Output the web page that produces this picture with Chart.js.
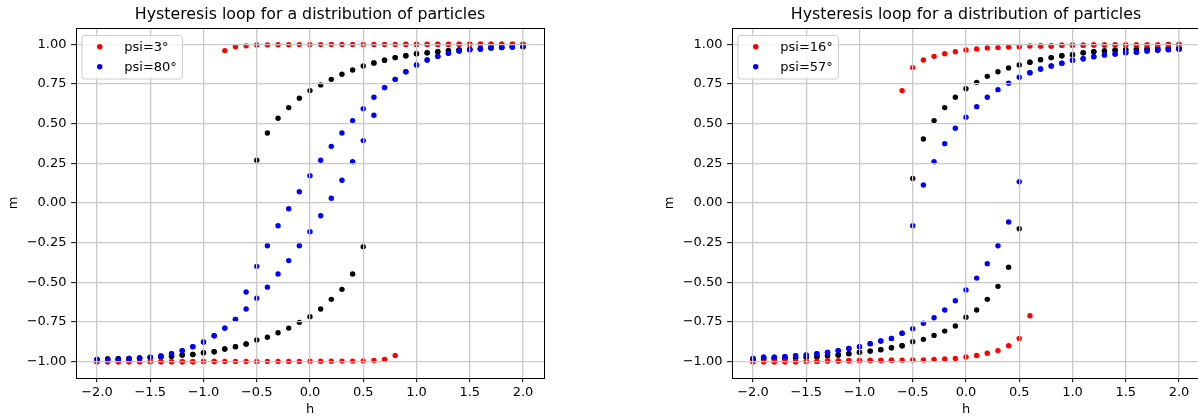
<!DOCTYPE html>
<html><head><meta charset="utf-8">
<script src="https://cdn.jsdelivr.net/npm/chart.js@4/dist/chart.umd.min.js"></script>
<style>
html,body{margin:0;padding:0;overflow:hidden;background:#fff;width:1198px;height:419px;}
.wrap{position:absolute;top:0;width:600px;height:419px;}
canvas{display:block;}
</style></head><body>
<div class="wrap" style="left:0"><canvas id="c1" width="600" height="419" style="width:600px;height:419px"></canvas></div>
<div class="wrap" style="left:656px"><canvas id="c2" width="600" height="419" style="width:600px;height:419px"></canvas></div>
<script>
// ---------- data ----------
const chartTitle = 'Hysteresis loop for a distribution of particles';
const xAxisTitle = 'h';
const yAxisTitle = 'm';

const hDown = [2.0,1.9,1.8,1.7,1.6,1.5,1.4,1.3,1.2,1.1,1.0,0.9,0.8,0.7,0.6,0.5,0.4,0.3,0.2,0.1,0.0,
  -0.1,-0.2,-0.3,-0.4,-0.5,-0.6,-0.7,-0.8,-0.9,-1.0,-1.1,-1.2,-1.3,-1.4,-1.5,-1.6,-1.7,-1.8,-1.9,-2.0];
const hUp = [-2.0,-1.9,-1.8,-1.7,-1.6,-1.5,-1.4,-1.3,-1.2,-1.1,-1.0,-0.9,-0.8,-0.7,-0.6,-0.5,-0.4,-0.3,-0.2,-0.1,0.0,
  0.1,0.2,0.3,0.4,0.5,0.6,0.7,0.8,0.9,1.0,1.1,1.2,1.3,1.4,1.5,1.6,1.7,1.8,1.9,2.0];

// left panel
const labelLeftRed = 'psi=3°';
const labelLeftBlue = 'psi=80°';
const leftRedDown = [1.000,1.000,1.000,1.000,1.000,1.000,1.000,0.999,0.999,0.999,0.999,0.999,0.999,0.999,0.999,0.999,
  0.999,0.999,0.999,0.998,0.998,0.998,0.997,0.997,0.996,0.995,0.990,0.984,0.960,
  -0.999,-0.999,-1.000,-1.000,-1.000,-1.000,-1.000,-1.000,-1.000,-1.000,-1.000,-1.000];
const leftRedUp = [-1.000,-1.000,-1.000,-1.000,-1.000,-1.000,-1.000,-1.000,-1.000,-1.000,-0.999,-0.999,-0.999,-0.999,-0.999,-0.998,-0.998,
  -0.998,-0.998,-0.998,-0.997,-0.997,-0.997,-0.996,-0.996,-0.995,-0.992,-0.985,-0.960,
  1.000,1.000,1.000,1.000,1.000,1.000,1.000,1.000,1.000,1.000,1.000,1.000];
const leftBlueDown = [0.987,0.985,0.981,0.979,0.972,0.966,0.958,0.943,0.924,0.901,0.870,0.827,0.779,0.727,0.666,0.594,0.519,0.441,0.357,0.269,0.172,
  0.071,-0.036,-0.143,-0.269,-0.399,-0.561,-0.733,-0.788,-0.836,-0.876,-0.905,-0.930,-0.949,-0.964,-0.972,-0.977,-0.983,-0.985,-0.987,-0.989];
const leftBlueUp = [-0.989,-0.987,-0.985,-0.983,-0.977,-0.972,-0.964,-0.949,-0.930,-0.905,-0.876,-0.836,-0.788,-0.733,-0.668,-0.600,-0.530,-0.447,-0.363,-0.269,-0.181,
  -0.080,0.030,0.143,0.260,0.393,0.553,0.727,0.779,0.827,0.870,0.901,0.924,0.943,0.958,0.966,0.972,0.979,0.981,0.985,0.987];
const leftBlackDown = [0.985,0.983,0.979,0.977,0.970,0.968,0.964,0.960,0.953,0.947,0.941,0.928,0.916,0.899,0.882,0.863,0.838,0.811,0.779,0.744,0.708,
  0.660,0.601,0.534,0.441,0.269,-0.888,-0.905,-0.920,-0.937,-0.943,-0.954,-0.958,-0.966,-0.970,-0.973,-0.976,-0.979,-0.981,-0.983,-0.986];
const leftBlackUp = [-0.986,-0.983,-0.981,-0.979,-0.976,-0.973,-0.970,-0.966,-0.958,-0.954,-0.943,-0.937,-0.920,-0.905,-0.888,-0.863,-0.846,-0.817,-0.788,-0.752,-0.716,
  -0.668,-0.607,-0.544,-0.447,-0.275,0.882,0.899,0.916,0.928,0.941,0.947,0.953,0.960,0.964,0.968,0.970,0.977,0.979,0.983,0.985];

// right panel
const labelRightRed = 'psi=16°';
const labelRightBlue = 'psi=57°';
const rightRedDown = [0.999,0.999,0.996,0.996,0.996,0.996,0.995,0.995,0.995,0.994,0.994,0.994,0.989,0.989,0.989,0.985,0.983,0.979,0.977,0.970,0.964,
  0.953,0.941,0.924,0.901,0.853,0.708,
  -0.991,-0.992,-0.992,-0.992,-0.994,-0.995,-0.995,-0.998,-0.999,-1.000,-1.000,-1.000,-1.000,-1.000];
const rightRedUp = [-1.000,-1.000,-1.000,-1.000,-1.000,-0.999,-0.998,-0.995,-0.995,-0.994,-0.992,-0.992,-0.992,-0.991,-0.990,-0.989,-0.989,-0.985,-0.983,-0.979,-0.970,
  -0.960,-0.947,-0.930,-0.899,-0.853,-0.710,
  0.989,0.989,0.994,0.994,0.994,0.995,0.995,0.995,0.996,0.996,0.996,0.996,0.999,0.999];
const rightBlueDown = [0.968,0.966,0.962,0.958,0.950,0.947,0.939,0.933,0.922,0.909,0.899,0.880,0.863,0.844,0.821,0.792,0.754,0.714,0.666,0.607,0.540,
  0.471,0.374,0.260,0.113,-0.143,
  -0.821,-0.853,-0.869,-0.886,-0.905,-0.916,-0.930,-0.941,-0.949,-0.958,-0.962,-0.968,-0.972,-0.972,-0.979];
const rightBlueUp = [-0.979,-0.972,-0.972,-0.968,-0.962,-0.958,-0.949,-0.941,-0.930,-0.916,-0.905,-0.886,-0.869,-0.853,-0.821,-0.792,-0.758,-0.723,-0.674,-0.616,-0.548,
  -0.473,-0.382,-0.269,-0.120,0.134,
  0.821,0.844,0.863,0.880,0.899,0.909,0.922,0.933,0.939,0.947,0.950,0.958,0.962,0.966,0.968];
const rightBlackDown = [0.975,0.975,0.972,0.970,0.968,0.966,0.962,0.958,0.953,0.947,0.934,0.928,0.916,0.903,0.887,0.870,0.851,0.827,0.798,0.760,0.720,
  0.666,0.601,0.519,0.403,0.155,
  -0.899,-0.912,-0.924,-0.933,-0.941,-0.949,-0.958,-0.962,-0.968,-0.972,-0.975,-0.978,-0.980,-0.983,-0.985];
const rightBlackUp = [-0.985,-0.983,-0.980,-0.978,-0.975,-0.972,-0.968,-0.962,-0.958,-0.949,-0.941,-0.933,-0.924,-0.912,-0.899,-0.874,-0.859,-0.834,-0.807,-0.775,-0.720,
  -0.674,-0.607,-0.525,-0.405,-0.162,
  0.887,0.903,0.916,0.928,0.934,0.947,0.953,0.958,0.962,0.966,0.968,0.970,0.972,0.975,0.975];

// ticks
const xTickValues = [-2.0,-1.5,-1.0,-0.5,0.0,0.5,1.0,1.5,2.0];
const xTickLabels = ['\u22122.0','\u22121.5','\u22121.0','\u22120.5','0.0','0.5','1.0','1.5','2.0'];
const yTickValues = [-1.0,-0.75,-0.5,-0.25,0.0,0.25,0.5,0.75,1.0];
const yTickLabels = ['\u22121.00','\u22120.75','\u22120.50','\u22120.25','0.00','0.25','0.50','0.75','1.00'];

// ---------- helpers ----------
const FONT = "'DejaVu Sans', 'Liberation Sans', sans-serif";
function pts(hs, ms){ return hs.map((h,i)=>({x:h, y:ms[i]})); }
const R = 2.7;
const GRID = '#c9c9c9';

const framePlugin = {
  id: 'mplFrame',
  afterDraw(chart) {
    const {ctx, chartArea: a} = chart;
    ctx.save();
    ctx.strokeStyle = '#000';
    ctx.lineWidth = 1;
    const l = Math.round(a.left)+0.5, t = Math.round(a.top)+0.5;
    const r = Math.round(a.right)+0.5, b = Math.round(a.bottom)+0.5;
    ctx.strokeRect(l, t, r-l, b-t);
    // legend (upper left inside axes)
    const items = chart.data.datasets.filter(d => d.label);
    ctx.font = '13px ' + FONT;
    let maxW = 0;
    items.forEach(d => { maxW = Math.max(maxW, ctx.measureText(d.label).width); });
    const bx = a.left + 6.3, by = a.top + 7.0;
    const textX = a.left + 48.6;
    const bw = (textX - bx) + maxW + 5.6;
    const bh = 43.6;
    const rad = 3;
    ctx.beginPath();
    ctx.moveTo(bx+rad, by);
    ctx.lineTo(bx+bw-rad, by); ctx.arcTo(bx+bw, by, bx+bw, by+rad, rad);
    ctx.lineTo(bx+bw, by+bh-rad); ctx.arcTo(bx+bw, by+bh, bx+bw-rad, by+bh, rad);
    ctx.lineTo(bx+rad, by+bh); ctx.arcTo(bx, by+bh, bx, by+bh-rad, rad);
    ctx.lineTo(bx, by+rad); ctx.arcTo(bx, by, bx+rad, by, rad);
    ctx.closePath();
    ctx.fillStyle = 'rgba(255,255,255,0.8)';
    ctx.fill();
    ctx.strokeStyle = '#cccccc';
    ctx.lineWidth = 1;
    ctx.stroke();
    items.forEach((d, i) => {
      const cy = a.top + 18.3 + i*20;
      ctx.beginPath();
      ctx.arc(a.left + 24, cy, R, 0, Math.PI*2);
      ctx.fillStyle = d.backgroundColor;
      ctx.fill();
      ctx.fillStyle = '#000';
      ctx.textAlign = 'left';
      ctx.textBaseline = 'middle';
      ctx.fillText(d.label, textX, cy + 0.5);
    });
    ctx.restore();
  }
};

function makeChart(id, redLabel, redD, redU, blueLabel, blueD, blueU, blackD, blackU) {
  const ds = (label, color, d, u, order) => ({
    label: label,
    data: pts(hDown, d).concat(pts(hUp, u)),
    backgroundColor: color,
    pointBackgroundColor: color,
    borderColor: color,
    pointBorderWidth: 0,
    borderWidth: 0,
    pointRadius: R,
    pointHoverRadius: R,
    showLine: false,
    order: order
  });
  return new Chart(document.getElementById(id), {
    type: 'scatter',
    data: {
      datasets: [
        ds(redLabel, '#ff0000', redD, redU, 1),
        ds(blueLabel, '#0000ff', blueD, blueU, 0),
        ds('', '#000000', blackD, blackU, 2)
      ]
    },
    options: {
      responsive: false,
      animation: false,
      events: [],
      devicePixelRatio: 1,
      layout: { padding: { left: 0, top: 0, right: 55.7, bottom: 0 } },
      plugins: {
        legend: { display: false },
        tooltip: { enabled: false },
        title: {
          display: true,
          text: chartTitle,
          fullSize: false,
          color: '#000',
          font: { family: FONT, size: 15.8, weight: 'normal', lineHeight: 1.2 },
          padding: { top: 5.65, bottom: 3.79 }
        }
      },
      scales: {
        x: {
          type: 'linear',
          min: -2.2, max: 2.2,
          afterBuildTicks: s => { s.ticks = xTickValues.map(v => ({ value: v })); },
          afterFit: s => { s.height = 41.4; },
          ticks: {
            autoSkip: false, maxRotation: 0, minRotation: 0,
            padding: 2.2,
            color: '#000',
            font: { family: FONT, size: 13, lineHeight: 1.2 },
            callback: (v) => { const i = xTickValues.indexOf(v); return i >= 0 ? xTickLabels[i] : ''; }
          },
          grid: { color: GRID, lineWidth: 1.3, z: 1, drawTicks: true, tickLength: 4.6, tickColor: '#000', tickWidth: 1 },
          border: { display: false },
          title: {
            display: true, text: xAxisTitle, color: '#000',
            font: { family: FONT, size: 13, lineHeight: 1.2 },
            padding: { top: 0, bottom: 1.2 }
          }
        },
        y: {
          type: 'linear',
          min: -1.1, max: 1.1,
          afterBuildTicks: s => { s.ticks = yTickValues.map(v => ({ value: v })); },
          afterFit: s => { s.width = 75.7; },
          ticks: {
            autoSkip: false,
            padding: 4.6,
            color: '#000',
            font: { family: FONT, size: 13, lineHeight: 1.2 },
            callback: (v) => { const i = yTickValues.indexOf(v); return i >= 0 ? yTickLabels[i] : ''; }
          },
          grid: { color: GRID, lineWidth: 1.3, z: 1, drawTicks: true, tickLength: 4.6, tickColor: '#000', tickWidth: 1 },
          border: { display: false },
          title: {
            display: true, text: yAxisTitle, color: '#000',
            font: { family: FONT, size: 13, lineHeight: 1.2 },
            padding: { top: 6, bottom: 0 }
          }
        }
      }
    },
    plugins: [framePlugin]
  });
}

makeChart('c1', labelLeftRed, leftRedDown, leftRedUp, labelLeftBlue, leftBlueDown, leftBlueUp, leftBlackDown, leftBlackUp);
makeChart('c2', labelRightRed, rightRedDown, rightRedUp, labelRightBlue, rightBlueDown, rightBlueUp, rightBlackDown, rightBlackUp);
</script></body></html>
